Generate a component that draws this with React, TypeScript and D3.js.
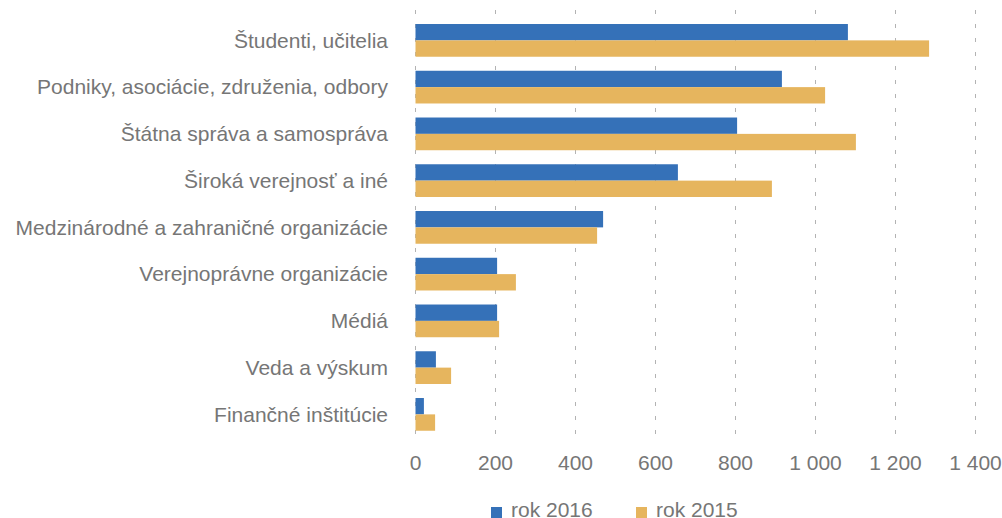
import React from "react";
import * as d3 from "d3";

const categories = [
  "Študenti, učitelia",
  "Podniky, asociácie, združenia, odbory",
  "Štátna správa a samospráva",
  "Široká verejnosť a iné",
  "Medzinárodné a zahraničné organizácie",
  "Verejnoprávne organizácie",
  "Médiá",
  "Veda a výskum",
  "Finančné inštitúcie",
];
const values2016 = [1081, 916, 804, 656, 469, 204, 204, 51, 21];
const values2015 = [1284, 1024, 1101, 891, 454, 251, 209, 89, 49];
const seriesNames = ["rok 2016", "rok 2015"];
const xTicks = [0, 200, 400, 600, 800, 1000, 1200, 1400];

const COLORS = ["#3571B8", "#E6B55E"];
const FONT = "'Liberation Sans', Arial, sans-serif";
const TEXT = "#767676";

export default function App() {
  const W = 1002, H = 518;
  const left = 415.5, right = 975.5, top = 17, bottom = 437.75;
  const x = d3.scaleLinear().domain([0, 1400]).range([left, right]);
  const y = d3.scaleBand<string>().domain(categories).range([top, bottom]).paddingInner(0.3).paddingOuter(0.15);
  const inner = d3.scaleBand<string>().domain(seriesNames).range([0, y.bandwidth()]);
  const fmt = (v: number) => d3.format(",")(v).replace(/,/g, " ");
  const series = [values2016, values2015];

  return (
    <svg width={W} height={H} style={{ position: "absolute", left: 0, top: 0, background: "#fff" }}>
      {xTicks.map((t) => (
        <line key={"g" + t} x1={x(t)} x2={x(t)} y1={10} y2={443} stroke="#b3b3b3" strokeWidth={1} strokeDasharray="4,10" />
      ))}
      {categories.map((c, i) => (
        <g key={c}>
          {series.map((s, k) => (
            <rect key={k} x={x(0)} y={(y(c) as number) + (inner(seriesNames[k]) as number)} width={x(s[i]) - x(0)} height={inner.bandwidth()} fill={COLORS[k]} />
          ))}
          <text x={388} y={(y(c) as number) + y.bandwidth() / 2} dy="0.35em" textAnchor="end" fontFamily={FONT} fontSize={21} fill={TEXT}>{c}</text>
        </g>
      ))}
      {xTicks.map((t) => (
        <text key={"t" + t} x={x(t)} y={470} textAnchor="middle" fontFamily={FONT} fontSize={21} fill={TEXT}>{fmt(t)}</text>
      ))}
      {seriesNames.map((n, k) => {
        const lx = [491, 636][k];
        return (
          <g key={n}>
            <rect x={lx} y={507} width={11} height={11} fill={COLORS[k]} />
            <text x={lx + 20} y={516.5} fontFamily={FONT} fontSize={21} fill={TEXT}>{n}</text>
          </g>
        );
      })}
    </svg>
  );
}
